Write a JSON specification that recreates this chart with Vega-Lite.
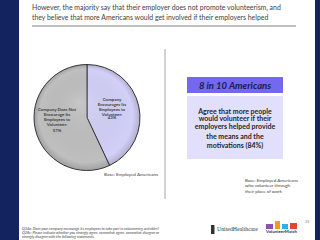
{
  "$schema": "https://vega.github.io/schema/vega-lite/v6.json",
  "width": 320,
  "height": 240,
  "autosize": {"type": "fit", "contains": "padding"},
  "padding": 0,
  "background": "white",
  "config": {"view": {"stroke": null}, "axis": {"disable": true}, "text": {"font": "Lato"}},
  "data": {"values": [{}]},
  "layer": [
    {
      "mark": {"type": "rect", "color": "#13235F"},
      "encoding": {
        "x": {"datum": 0, "type": "quantitative", "scale": {"domain": [0, 320], "nice": false, "zero": false}, "axis": null},
        "x2": {"datum": 19},
        "y": {"datum": 0, "type": "quantitative", "scale": {"domain": [0, 240], "nice": false, "zero": false, "reverse": true}, "axis": null},
        "y2": {"datum": 240}
      }
    },
    {
      "mark": {"type": "rect", "color": "#13235F"},
      "encoding": {"x": {"datum": 315, "type": "quantitative"}, "x2": {"datum": 320}, "y": {"datum": 0, "type": "quantitative"}, "y2": {"datum": 240}}
    },
    {
      "data": {"values": [{"text": ["However, the majority say that their employer does not promote volunteerism, and", "they believe that more Americans would get involved if their employers helped"]}]},
      "mark": {"type": "text", "align": "left", "baseline": "middle", "fontSize": 6.9, "lineHeight": 10, "color": "#404040"},
      "encoding": {"x": {"datum": 32, "type": "quantitative"}, "y": {"datum": 8, "type": "quantitative"}, "text": {"field": "text"}}
    },
    {
      "mark": {"type": "rule", "color": "#808080", "strokeWidth": 1},
      "encoding": {"x": {"datum": 32, "type": "quantitative"}, "x2": {"datum": 296}, "y": {"datum": 26, "type": "quantitative"}}
    },
    {
      "mark": {"type": "rule", "color": "#a6a6a6", "strokeWidth": 1},
      "encoding": {"x": {"datum": 165, "type": "quantitative"}, "y": {"datum": 49, "type": "quantitative"}, "y2": {"datum": 199}}
    },
    {
      "data": {"name": "pie", "values": [
        {"category": "Company Encourages Its Employees to Volunteer", "value": 43, "order": 1, "label": ["Company", "Encourages Its", "Employees to", "Volunteer:"], "pct": "43%"},
        {"category": "Company Does Not Encourage Its Employees to Volunteer", "value": 57, "order": 2, "label": ["Company Does Not", "Encourage Its", "Employees to", "Volunteer:"], "pct": "57%"}
      ]},
      "layer": [
        {
          "mark": {"type": "arc", "outerRadius": 53, "stroke": "#3a3a3a", "strokeWidth": 1},
          "encoding": {
            "theta": {"field": "value", "type": "quantitative", "stack": true},
            "order": {"field": "order", "type": "quantitative"},
            "color": {"field": "category", "type": "nominal", "legend": null,
              "scale": {"domain": ["Company Encourages Its Employees to Volunteer", "Company Does Not Encourage Its Employees to Volunteer"], "range": ["#D2D0F7", "#BFBFBF"]}},
            "x": {"datum": 87, "type": "quantitative"},
            "y": {"datum": 117.5, "type": "quantitative"}
          }
        },
        {
          "data": {"values": [{}]},
          "mark": {"type": "arc", "outerRadius": 53, "theta": 0, "theta2": 6.2832,
            "fill": {"gradient": "radial", "x1": 0.42, "y1": 0.35, "r1": 0, "x2": 0.5, "y2": 0.5, "r2": 0.5,
              "stops": [{"offset": 0, "color": "rgba(255,255,255,0.12)"}, {"offset": 0.88, "color": "rgba(0,0,0,0)"}, {"offset": 1, "color": "rgba(0,0,0,0.16)"}]}},
          "encoding": {"x": {"datum": 87, "type": "quantitative"}, "y": {"datum": 117.5, "type": "quantitative"}}
        },
        {
          "transform": [{"filter": "datum.order == 1"}],
          "layer": [
            {
              "mark": {"type": "text", "align": "center", "baseline": "middle", "fontSize": 4.4, "fontWeight": "bold", "lineHeight": 5, "color": "#404040"},
              "encoding": {"x": {"datum": 112, "type": "quantitative"}, "y": {"datum": 99.5, "type": "quantitative"}, "text": {"field": "label"}}
            },
            {
              "mark": {"type": "text", "align": "center", "baseline": "middle", "fontSize": 4.4, "fontWeight": "bold", "color": "#404040"},
              "encoding": {"x": {"datum": 112, "type": "quantitative"}, "y": {"datum": 118, "type": "quantitative"}, "text": {"field": "pct"}}
            }
          ]
        },
        {
          "transform": [{"filter": "datum.order == 2"}],
          "layer": [
            {
              "mark": {"type": "text", "align": "center", "baseline": "middle", "fontSize": 4.4, "fontWeight": "bold", "lineHeight": 4.9, "color": "#404040"},
              "encoding": {"x": {"datum": 57, "type": "quantitative"}, "y": {"datum": 110, "type": "quantitative"}, "text": {"field": "label"}}
            },
            {
              "mark": {"type": "text", "align": "center", "baseline": "middle", "fontSize": 4.4, "fontWeight": "bold", "color": "#404040"},
              "encoding": {"x": {"datum": 57, "type": "quantitative"}, "y": {"datum": 131, "type": "quantitative"}, "text": {"field": "pct"}}
            }
          ]
        }
      ]
    },
    {
      "data": {"values": [{"text": "Base: Employed Americans"}]},
      "mark": {"type": "text", "align": "right", "baseline": "middle", "fontSize": 4.6, "color": "#404040"},
      "encoding": {"x": {"datum": 158, "type": "quantitative"}, "y": {"datum": 175, "type": "quantitative"}, "text": {"field": "text"}}
    },
    {
      "mark": {"type": "rect", "color": "#7468F0"},
      "encoding": {"x": {"datum": 187, "type": "quantitative"}, "x2": {"datum": 283}, "y": {"datum": 77, "type": "quantitative"}, "y2": {"datum": 93}}
    },
    {
      "mark": {"type": "rect", "color": "#E2DFFC"},
      "encoding": {"x": {"datum": 187, "type": "quantitative"}, "x2": {"datum": 283}, "y": {"datum": 96, "type": "quantitative"}, "y2": {"datum": 159}}
    },
    {
      "data": {"values": [{"text": "8 in 10 Americans"}]},
      "mark": {"type": "text", "align": "center", "baseline": "middle", "fontSize": 9.5, "fontWeight": "bold", "fontStyle": "italic", "color": "#1B1B4F"},
      "encoding": {"x": {"datum": 235, "type": "quantitative"}, "y": {"datum": 85.5, "type": "quantitative"}, "text": {"field": "text"}}
    },
    {
      "data": {"values": [{"text": ["Agree that more people", "would volunteer if their", "employers helped provide"]}]},
      "mark": {"type": "text", "align": "center", "baseline": "middle", "fontSize": 7, "fontWeight": "bold", "lineHeight": 7.5, "color": "#262626"},
      "encoding": {"x": {"datum": 235, "type": "quantitative"}, "y": {"datum": 111.5, "type": "quantitative"}, "text": {"field": "text"}}
    },
    {
      "data": {"values": [{"text": ["the means and the", "motivations (84%)"]}]},
      "mark": {"type": "text", "align": "center", "baseline": "middle", "fontSize": 7, "fontWeight": "bold", "lineHeight": 9, "color": "#262626"},
      "encoding": {"x": {"datum": 235, "type": "quantitative"}, "y": {"datum": 136.5, "type": "quantitative"}, "text": {"field": "text"}}
    },
    {
      "data": {"values": [{"text": ["Base: Employed Americans", "who volunteer through", "their place of work"]}]},
      "mark": {"type": "text", "align": "left", "baseline": "middle", "fontSize": 4.5, "lineHeight": 5.5, "color": "#404040"},
      "encoding": {"x": {"datum": 245, "type": "quantitative"}, "y": {"datum": 180.5, "type": "quantitative"}, "text": {"field": "text"}}
    },
    {
      "data": {"values": [{"text": ["Q34a: Does your company encourage its employees to take part in volunteering activities?", "Q28c: Please indicate whether you strongly agree, somewhat agree, somewhat disagree or", "strongly disagree with the following statements."]}]},
      "mark": {"type": "text", "align": "left", "baseline": "middle", "fontSize": 3.7, "fontStyle": "italic", "lineHeight": 4.2, "color": "#404040"},
      "encoding": {"x": {"datum": 22, "type": "quantitative"}, "y": {"datum": 229, "type": "quantitative"}, "text": {"field": "text"}}
    },
    {
      "mark": {"type": "rect", "color": "#333333"},
      "encoding": {"x": {"datum": 211, "type": "quantitative"}, "x2": {"datum": 214.5}, "y": {"datum": 225, "type": "quantitative"}, "y2": {"datum": 234}}
    },
    {
      "data": {"values": [{"text": "UnitedHealthcare"}]},
      "mark": {"type": "text", "align": "left", "baseline": "middle", "fontSize": 5.8, "font": "Liberation Serif", "color": "#333333"},
      "encoding": {"x": {"datum": 217, "type": "quantitative"}, "y": {"datum": 229, "type": "quantitative"}, "text": {"field": "text"}}
    },
    {
      "mark": {"type": "rect", "color": "#8E4FB5"},
      "encoding": {"x": {"datum": 266, "type": "quantitative"}, "x2": {"datum": 273}, "y": {"datum": 224, "type": "quantitative"}, "y2": {"datum": 229}}
    },
    {
      "mark": {"type": "rect", "color": "#F39A1E"},
      "encoding": {"x": {"datum": 275, "type": "quantitative"}, "x2": {"datum": 280}, "y": {"datum": 221, "type": "quantitative"}, "y2": {"datum": 229}}
    },
    {
      "mark": {"type": "rect", "color": "#2BB3E0"},
      "encoding": {"x": {"datum": 282, "type": "quantitative"}, "x2": {"datum": 288}, "y": {"datum": 224, "type": "quantitative"}, "y2": {"datum": 229}}
    },
    {
      "mark": {"type": "rect", "color": "#E8452C"},
      "encoding": {"x": {"datum": 290, "type": "quantitative"}, "x2": {"datum": 297}, "y": {"datum": 223, "type": "quantitative"}, "y2": {"datum": 229}}
    },
    {
      "data": {"values": [{"text": "VolunteerMatch"}]},
      "mark": {"type": "text", "align": "left", "baseline": "middle", "fontSize": 4.3, "fontWeight": "bold", "color": "#1B2A5C"},
      "encoding": {"x": {"datum": 266, "type": "quantitative"}, "y": {"datum": 232, "type": "quantitative"}, "text": {"field": "text"}}
    },
    {
      "data": {"values": [{"text": "25"}]},
      "mark": {"type": "text", "align": "left", "baseline": "middle", "fontSize": 4, "color": "#808080"},
      "encoding": {"x": {"datum": 305, "type": "quantitative"}, "y": {"datum": 222, "type": "quantitative"}, "text": {"field": "text"}}
    }
  ]
}
